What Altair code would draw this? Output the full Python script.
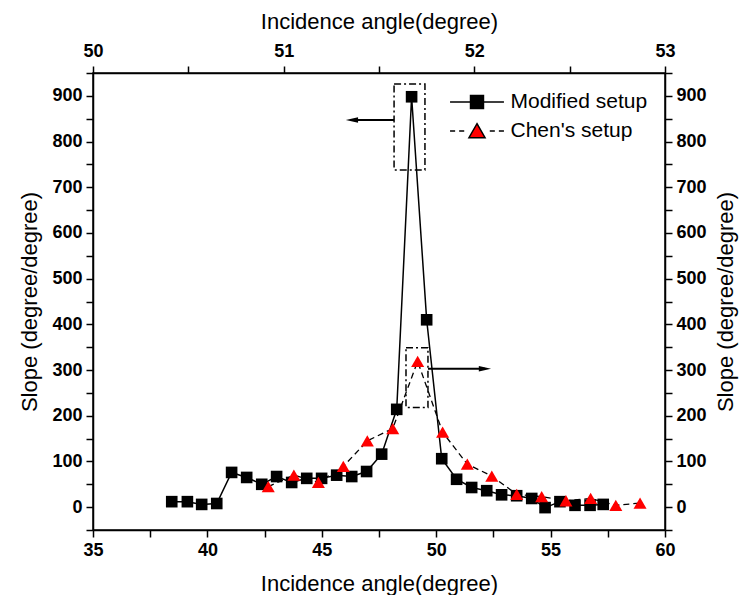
import altair as alt
import pandas as pd

# Modified setup (top axis, left axis)
mod_x = [50.413, 50.495, 50.570, 50.649, 50.727, 50.806, 50.885, 50.963, 51.042, 51.121,
         51.199, 51.278, 51.357, 51.435, 51.514, 51.593, 51.671, 51.750, 51.829, 51.907,
         51.986, 52.065, 52.143, 52.222, 52.301, 52.371, 52.449, 52.528, 52.607, 52.676]
mod_y = [12, 12, 6, 8, 76, 65, 50, 67, 54, 63,
         63, 70, 67, 78, 116, 214, 898, 410, 106, 61,
         43, 36, 27, 25, 19, -1, 12, 4, 4, 6]

# Chen's setup (bottom axis, right axis)
chen_x = [42.66, 43.78, 44.85, 45.94, 46.99, 48.10, 49.19, 50.28,
          51.36, 52.43, 53.52, 54.61, 55.67, 56.75, 57.85, 58.91]
chen_y = [45, 70, 54, 89, 145, 172, 319, 164,
          94, 68, 28, 23, 14, 19, 4, 9]

series_names = ["Modified setup", "Chen's setup"]

top_ticks = [50, 50.5, 51, 51.5, 52, 52.5, 53]
bottom_ticks = [35, 37.5, 40, 42.5, 45, 47.5, 50, 52.5, 55, 57.5, 60]
y_ticks = [-50, 0, 50, 100, 150, 200, 250, 300, 350, 400, 450, 500,
           550, 600, 650, 700, 750, 800, 850, 900, 950]

# annotation boxes and arrows (data units)
box1_x = [51.579]; box1_x2 = [51.741]; box1_y = [738]; box1_y2 = [926]
arrow1_x = [51.579]; arrow1_x2 = [51.358]; arrow1_y = [847]
box2_x = [48.68]; box2_x2 = [49.64]; box2_y = [218]; box2_y2 = [349]
arrow2_x = [49.64]; arrow2_x2 = [52.13]; arrow2_y = [303]

FONT = "Liberation Sans"

common_axis = dict(
    tickSize=7, tickColor="black", tickWidth=1.5,
    domainColor="black", domainWidth=1.5,
    labelFont=FONT, labelFontSize=18, labelFontWeight="bold", labelColor="black",
    titleFont=FONT, titleFontSize=22, titleFontWeight="normal", titleColor="black",
    grid=False, labelFlush=False, labelOverlap=False, labelBound=False,
)

xt = alt.X("x:Q", scale=alt.Scale(domain=[50, 53], nice=False, zero=False),
           axis=alt.Axis(orient="top", values=top_ticks, format=".0f",
                         labelExpr="datum.value % 1 == 0 ? datum.label : ''",
                         title="Incidence angle(degree)", labelPadding=6, titlePadding=9,
                         **common_axis))
xb = alt.X("x:Q", scale=alt.Scale(domain=[35, 60], nice=False, zero=False),
           axis=alt.Axis(orient="bottom", values=bottom_ticks, format=".0f",
                         labelExpr="datum.value % 5 == 0 ? datum.label : ''",
                         title="Incidence angle(degree)", labelPadding=4, titlePadding=14,
                         **common_axis))
yl = alt.Y("y:Q", scale=alt.Scale(domain=[-50, 950], nice=False, zero=False),
           axis=alt.Axis(orient="left", values=y_ticks,
                         labelExpr="datum.value % 100 == 0 ? datum.label : ''",
                         title="Slope (degree/degree)", labelPadding=4, titlePadding=10,
                         **common_axis))
yr = alt.Y("y:Q", scale=alt.Scale(domain=[-50, 950], nice=False, zero=False),
           axis=alt.Axis(orient="right", values=y_ticks,
                         labelExpr="datum.value % 100 == 0 ? datum.label : ''",
                         title="Slope (degree/degree)", labelPadding=4, titlePadding=9,
                         titleAngle=270, titleBaseline="top",
                         **common_axis))

mod_df = pd.DataFrame({"x": mod_x, "y": mod_y})
chen_df = pd.DataFrame({"x": chen_x, "y": chen_y})

ARROW_LEFT = "M-1,0L1,-0.45L1,0.45Z"
ARROW_RIGHT = "M1,0L-1,-0.45L-1,0.45Z"

mod_line = alt.Chart(mod_df).mark_line(color="black", strokeWidth=1.5).encode(x=xt, y=yl)
mod_pts = alt.Chart(mod_df).mark_point(shape="square", filled=True, color="black",
                                       size=135, opacity=1).encode(x=xt, y=yl)
box1 = alt.Chart(pd.DataFrame({"x": box1_x, "x2": box1_x2, "y": box1_y, "y2": box1_y2})).mark_rect(
    filled=False, color="black", strokeWidth=1.5, strokeDash=[7, 3, 2, 3]
).encode(x=xt, x2="x2:Q", y=yl, y2="y2:Q")
arrow1 = alt.Chart(pd.DataFrame({"x": arrow1_x, "x2": arrow1_x2, "y": arrow1_y})).mark_rule(
    color="black", strokeWidth=2).encode(x=xt, x2="x2:Q", y=yl)
head1 = alt.Chart(pd.DataFrame({"x": arrow1_x2, "y": arrow1_y})).mark_point(
    shape=ARROW_LEFT, filled=True, color="black", size=150, opacity=1).encode(x=xt, y=yl)

mod_layer = alt.layer(mod_line, mod_pts, box1, arrow1, head1)

chen_line = alt.Chart(chen_df).mark_line(color="black", strokeWidth=1.3,
                                         strokeDash=[6, 4]).encode(x=xb, y=yr)
chen_pts = alt.Chart(chen_df).mark_point(shape="triangle-up", filled=True, color="red",
                                         size=170, opacity=1).encode(x=xb, y=yr)
box2 = alt.Chart(pd.DataFrame({"x": box2_x, "x2": box2_x2, "y": box2_y, "y2": box2_y2})).mark_rect(
    filled=False, color="black", strokeWidth=1.5, strokeDash=[7, 3, 2, 3]
).encode(x=xb, x2="x2:Q", y=yr, y2="y2:Q")
arrow2 = alt.Chart(pd.DataFrame({"x": arrow2_x, "x2": arrow2_x2, "y": arrow2_y})).mark_rule(
    color="black", strokeWidth=2).encode(x=xb, x2="x2:Q", y=yr)
head2 = alt.Chart(pd.DataFrame({"x": arrow2_x2, "y": arrow2_y})).mark_point(
    shape=ARROW_RIGHT, filled=True, color="black", size=150, opacity=1).encode(x=xb, y=yr)

# legend symbols: line + marker
LEG_MOD = "M-1.54,0H-0.37M0.37,0H1.54M-0.37,-0.37H0.37V0.37H-0.37Z"
LEG_CHEN = ("M-1.54,0H-1.25M-1.02,0H-0.73M0.73,0H1.02M1.25,0H1.54"
            "M0,-0.42L0.46,0.38H-0.46Z")

legend_df = pd.DataFrame({"series": series_names})
leg_kwargs = dict(orient="none", legendX=365.5, legendY=10.5, title=None,
                  labelFont=FONT, labelFontSize=21, labelColor="black",
                  symbolSize=1225, symbolStrokeWidth=1.5,
                  symbolOpacity=1, labelOffset=15, rowPadding=0, padding=0)
legend_layer = alt.Chart(legend_df).mark_point(filled=True, opacity=0,
                                               strokeWidth=1.5).encode(
    fill=alt.Fill("series:N", scale=alt.Scale(domain=series_names, range=["black", "red"]),
                  legend=alt.Legend(**leg_kwargs)),
    stroke=alt.Stroke("series:N", scale=alt.Scale(domain=series_names, range=["black", "black"]),
                      legend=alt.Legend(**leg_kwargs)),
    shape=alt.Shape("series:N", scale=alt.Scale(domain=series_names, range=[LEG_MOD, LEG_CHEN]),
                    legend=alt.Legend(**leg_kwargs)),
)

chen_layer = alt.layer(chen_line, box2, arrow2, head2, chen_pts, legend_layer)

chart = alt.layer(mod_layer, chen_layer).resolve_scale(
    x="independent", y="independent"
).properties(
    width=572, height=457,
    autosize=alt.AutoSizeParams(type="none"),
    padding={"left": 85, "top": 65, "right": 75, "bottom": 65},
    background="white",
).configure_view(stroke="black", strokeWidth=1.5)

chart.save("out.html", embed_options={"renderer": "svg", "actions": False})
